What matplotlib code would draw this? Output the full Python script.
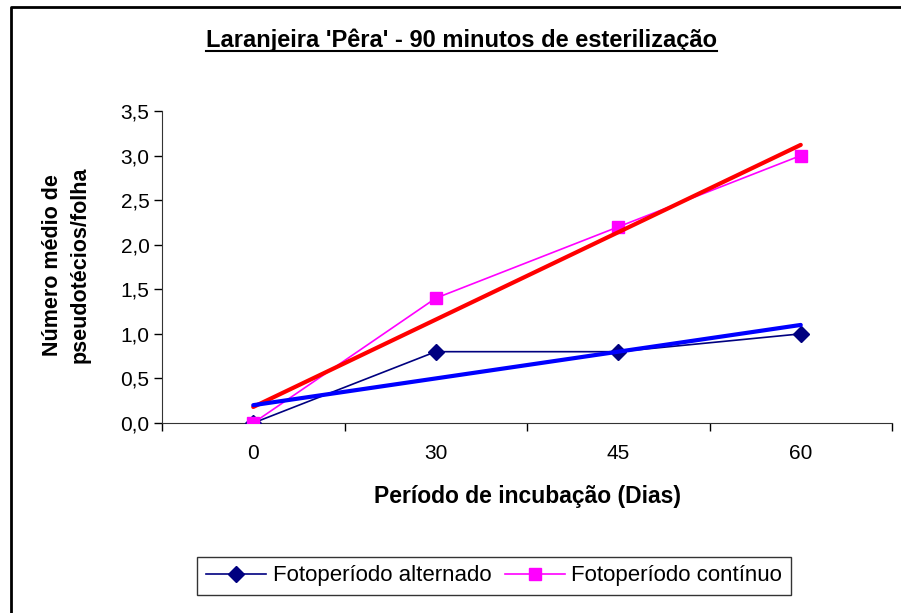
import numpy as np
import matplotlib.pyplot as plt
from matplotlib.lines import Line2D

plt.rcParams['font.family'] = ['Liberation Sans', 'DejaVu Sans']

# dados
dias = ['0', '30', '45', '60']
alternado = [0.0, 0.8, 0.8, 1.0]
continuo = [0.0, 1.4, 2.2, 3.0]
yticks = [0.0, 0.5, 1.0, 1.5, 2.0, 2.5, 3.0, 3.5]

fig = plt.figure(figsize=(9.01, 6.13), dpi=100)
W, H = 901, 613
ax = fig.add_axes([162 / W, 1 - 423 / H, (892 - 162) / W, (423 - 111) / H])

x = np.arange(1, len(dias) + 1)

ax.plot(x, alternado, color='#000080', lw=1.2, marker='D', ms=8,
        label='Fotoperíodo alternado', zorder=3)
ax.plot(x, continuo, color='#FF00FF', lw=1.2, marker='s', ms=8,
        label='Fotoperíodo contínuo', zorder=3)

# linhas de tendencia (linear)
for serie, cor in ((continuo, '#FF0000'), (alternado, '#0000FF')):
    a, b = np.polyfit(x, serie, 1)
    ax.plot([x[0], x[-1]], [a * x[0] + b, a * x[-1] + b], color=cor, lw=3,
            solid_capstyle='round', zorder=4)

ax.set_xlim(0.5, len(dias) + 0.5)
ax.set_ylim(0, 3.5)
ax.set_yticks(yticks)
ax.set_yticklabels([('%.1f' % v).replace('.', ',') for v in yticks], fontsize=15)
ax.set_xticks(x)
ax.set_xticklabels(dias, fontsize=15)
ax.tick_params(axis='x', which='major', length=0, pad=15)
ax.set_xticks(np.arange(0.5, len(dias) + 1), minor=True)
ax.tick_params(axis='x', which='minor', length=6, direction='out', width=1)
ax.tick_params(axis='y', length=6, direction='out', width=1, pad=3)
for s in ('top', 'right'):
    ax.spines[s].set_visible(False)
for s in ('left', 'bottom'):
    ax.spines[s].set_color('#333333')

ax.set_xlabel('Período de incubação (Dias)', fontsize=16.5, fontweight='bold', labelpad=16)
fig.text(66 / W, 1 - 265 / H, 'Número médio de\npseudotécios/folha', rotation=90,
         ha='center', va='center', fontsize=15.5, fontweight='bold', linespacing=1.4)

title = fig.text(461 / W, 1 - 40 / H, "Laranjeira 'Pêra' - 90 minutos de esterilização",
                 ha='center', va='center', fontsize=17, fontweight='bold')

leg = fig.legend(loc='center', bbox_to_anchor=(494 / W, 1 - 576 / H), ncol=2,
                 fontsize=16, frameon=True, fancybox=False, edgecolor='black',
                 handlelength=2.7, columnspacing=0.6, handletextpad=0.3,
                 borderpad=0.4)
leg.get_frame().set_linewidth(1)

# sublinhado do titulo
fig.canvas.draw()
bb = title.get_window_extent().transformed(fig.transFigure.inverted())
fig.add_artist(Line2D([bb.x0, bb.x1], [bb.y0 + 0.002, bb.y0 + 0.002],
                      color='black', lw=1.5, transform=fig.transFigure))

# moldura externa (so topo e esquerda visiveis)
fig.add_artist(Line2D([11 / W, 11 / W, 1.01], [-0.01, 1 - 7 / H, 1 - 7 / H],
                      color='black', lw=2, transform=fig.transFigure))

fig.savefig('out.png', dpi=100)
